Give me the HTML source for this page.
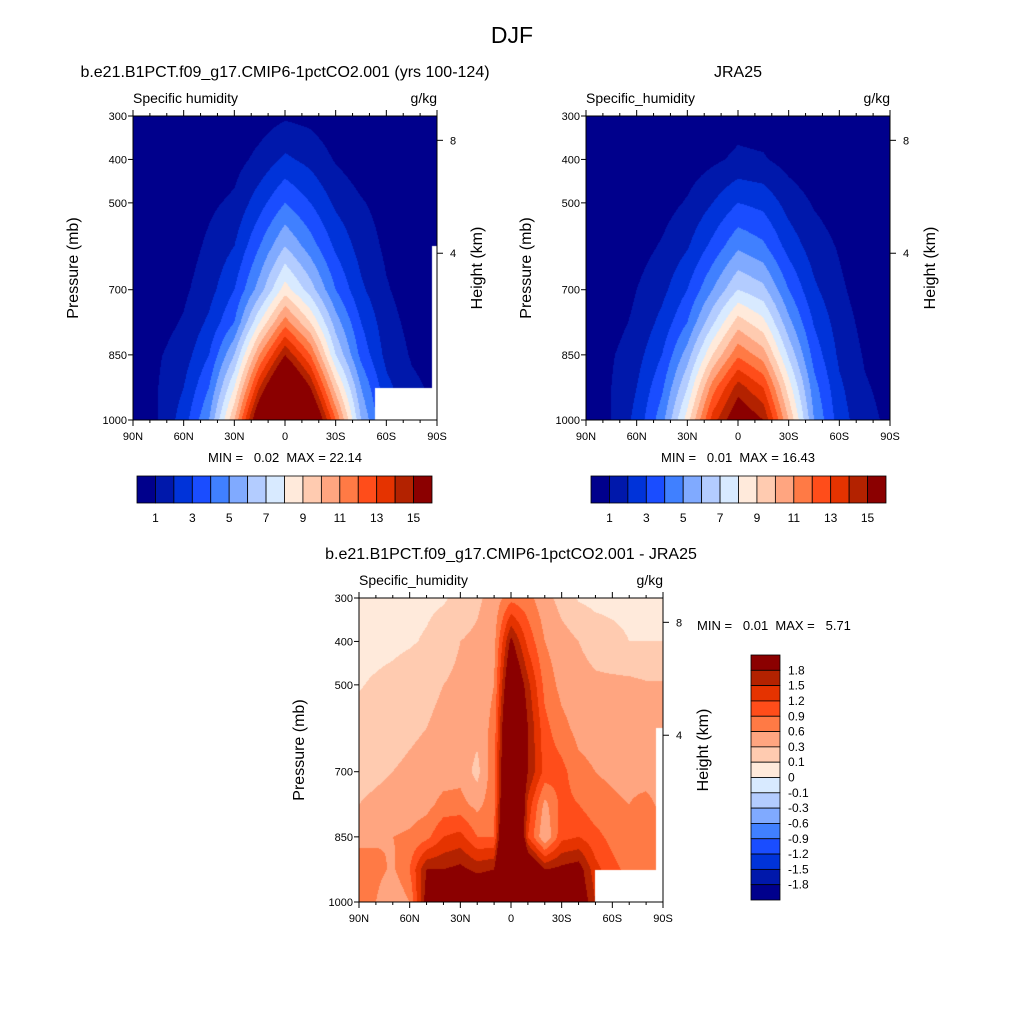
<!DOCTYPE html>
<html><head><meta charset="utf-8">
<style>
body{margin:0;background:#fff;width:1024px;height:1024px;position:relative;overflow:hidden;font-family:"Liberation Sans",Arial,sans-serif}
canvas{position:absolute}
svg{position:absolute;left:0;top:0}
text{white-space:pre}
</style></head>
<body>
<canvas id="c1" width="304" height="304" style="left:133px;top:116px"></canvas>
<canvas id="c2" width="304" height="304" style="left:586px;top:116px"></canvas>
<canvas id="c3" width="304" height="304" style="left:359px;top:598px"></canvas>
<svg id="ov" width="1024" height="1024"></svg>
<script>
// ---- data ----
const pLevels=[300,400,500,600,700,775,850,925,1000];
const lats15=[90,75,60,45,30,15,0,-15,-30,-45,-60,-75,-90];
const lats10=[90,80,70,60,50,40,30,20,10,0,-10,-20,-30,-40,-50,-60,-70,-80,-90];
const modelQ=[
[.01,.02,.05,.1,.2,.5,0.85,.7,.3,.1,.05,.02,.01],
[.02,.05,.1,.3,.6,1.3,2.2,1.7,.9,.4,.15,.05,.03],
[.05,.1,.3,.8,1.2,2.6,4,3,1.8,1.1,.6,.15,.1],
[.1,.2,.5,1.2,2,4,6,4.5,2.8,1.6,.8,.3,.2],
[.2,.4,.8,1.6,3,5.5,8.5,6.5,4,2.2,1.1,.5,.3],
[.3,.6,1.1,2.2,4,8,11.5,9,5.5,3,1.4,.7,.4],
[.5,.9,1.5,3,6,11,15,12,7,3.7,1.7,.9,.6],
[.6,1,2,4,8,14,18.5,15,9.5,5,2.3,1.2,.8],
[.6,1,2.5,5,10,17,22,18,12,6,2.8,1.5,.9]];
const jraQ=[
[.01,.02,.04,.08,.15,.35,.6,.5,.2,.08,.04,.02,.01],
[.02,.04,.08,.2,.45,.8,1.2,1.1,.6,.25,.1,.04,.03],
[.05,.1,.3,.6,1.1,2,3,2.7,1.6,.9,.5,.15,.1],
[.1,.2,.6,1.1,1.9,3.3,4.8,4.2,2.6,1.5,.9,.3,.2],
[.2,.4,1,1.7,3,5,7,6.3,4,2.2,1.2,.5,.3],
[.3,.6,1.2,2.3,4,6.8,9.5,8.3,5.3,2.9,1.5,.7,.4],
[.5,.9,1.6,3,5.5,9,11.8,10.5,6.8,3.6,1.8,.9,.5],
[.6,1,2,3.8,7,11.5,14.5,13,8.5,4.4,2.2,1.1,.7],
[.6,1,2.3,4.6,8.5,13.5,16.3,15,10,5,2.5,1.3,.8]];
const diffQ=[
[.04,.04,.05,.05,.06,.08,.15,.25,.4,.8,.7,.4,.2,.08,.05,.05,.05,.05,.05],
[.05,.05,.06,.08,.12,.2,.3,.35,.5,1.9,1.1,.6,.4,.3,.2,.15,.1,.1,.1],
[.09,.12,.15,.2,.25,.3,.35,.4,.6,2.5,1.6,.8,.5,.4,.35,.35,.35,.32,.32],
[.15,.18,.2,.25,.3,.35,.45,.4,.7,3,1.8,1.0,.7,.5,.45,.45,.4,.4,.35],
[.22,.25,.3,.35,.4,.45,.5,.2,.8,3.2,1.8,1.1,1.0,.7,.6,.55,.5,.45,.4],
[.3,.35,.4,.45,.5,.7,.7,.5,.8,3.5,1.4,.5,1.0,.9,.7,.65,.6,.7,.5],
[.55,.55,.6,.65,.8,1.2,1.3,.9,.9,4,1.2,.3,1.1,1.2,1.0,.8,.6,.9,.7],
[.7,.7,.55,.9,1.8,1.8,1.9,1.7,1.8,4.5,2.5,1.8,1.9,2,1.3,1,.8,.8,.7],
[.7,.6,.3,.6,2,2.5,2.5,2.5,2.5,5,3,2.5,2.5,2.2,1.5,1,.9,.8,.7]];
const qBounds=[1,2,3,4,5,6,7,8,9,10,11,12,13,14,15];
const qTickLabels=["1","3","5","7","9","11","13","15"];
const dBounds=[-1.8,-1.5,-1.2,-0.9,-0.6,-0.3,-0.1,0,0.1,0.3,0.6,0.9,1.2,1.5,1.8];
const dTickLabels=["-1.8","-1.5","-1.2","-0.9","-0.6","-0.3","-0.1","0","0.1","0.3","0.6","0.9","1.2","1.5","1.8"];
const colors=["#00008c","#0018ab","#0033d9","#1a4dff","#4080ff","#80aaff","#b3ccff","#d8eaff","#ffeadb","#ffcbb0","#ffa580","#ff7a45","#ff4d1a","#e53300","#b32200","#8b0000"];
const masks1=[[-53,-90,926],[-87,-90,600]];
const masks2=[];
const masks3=[[-50,-90,926],[-86,-90,600]];
const pTicks=[300,400,500,700,850,1000];
const latTicks=[90,60,30,0,-30,-60,-90];
const latTickLabels=["90N","60N","30N","0","30S","60S","90S"];
const hTicks=[[8,356],[4,616]];

function hex(c){return [parseInt(c.slice(1,3),16),parseInt(c.slice(3,5),16),parseInt(c.slice(5,7),16)];}
function interp(grid,lats,lat,p){
  let i=0;while(i<pLevels.length-2&&p>pLevels[i+1])i++;
  let tp=(p-pLevels[i])/(pLevels[i+1]-pLevels[i]);
  let j=0;while(j<lats.length-2&&lat<lats[j+1])j++;
  let tl=(lat-lats[j])/(lats[j+1]-lats[j]);
  const a=grid[i][j]*(1-tl)+grid[i][j+1]*tl, b=grid[i+1][j]*(1-tl)+grid[i+1][j+1]*tl;
  return a*(1-tp)+b*tp;
}
function render(id,grid,lats,bounds,masks){
  const cv=document.getElementById(id),ctx=cv.getContext('2d');
  const img=ctx.createImageData(304,304),rgb=colors.map(hex);
  for(let y=0;y<304;y++){const p=300+(y+0.5)/304*700;
    for(let x=0;x<304;x++){const lat=90-(x+0.5)/304*180;
      let masked=masks.some(m=>lat<=m[0]&&lat>=m[1]&&p>=m[2]);
      const k=(y*304+x)*4;
      if(masked){img.data[k]=img.data[k+1]=img.data[k+2]=255;img.data[k+3]=255;continue;}
      const v=interp(grid,lats,lat,p);let idx=0;for(const b of bounds)if(v>=b)idx++;
      const c=rgb[idx];img.data[k]=c[0];img.data[k+1]=c[1];img.data[k+2]=c[2];img.data[k+3]=255;}}
  ctx.putImageData(img,0,0);
}
render('c1',modelQ,lats15,qBounds,masks1);
render('c2',jraQ,lats15,qBounds,masks2);
render('c3',diffQ,lats10,dBounds,masks3);

const NS="http://www.w3.org/2000/svg",ov=document.getElementById('ov');
function el(tag,at,txt){const e=document.createElementNS(NS,tag);for(const k in at)e.setAttribute(k,at[k]);if(txt!==undefined)e.textContent=txt;ov.appendChild(e);return e;}
function txt(x,y,s,size,anchor,name,rot){const e=el('text',{x:x,y:y,'font-size':size,'text-anchor':anchor||'start',fill:'#000'},s);
  if(rot)e.setAttribute('transform','rotate(-90 '+x+' '+y+')');
  
  return e;}
function panel(L,T,title,left,right,pre){
  const xs=lat=>L+(90-lat)/180*304, ys=p=>T+(p-300)/700*304;
  const fr=el('rect',{x:L,y:T,width:304,height:304,fill:'none',stroke:'#000','stroke-width':1});
  
  
  pTicks.forEach(p=>{el('line',{x1:L-5,x2:L,y1:ys(p),y2:ys(p),stroke:'#000'});
    txt(L-6,ys(p)+4,String(p),11,'end',pre+'-pressure-tick-label');});
  for(let lat=90;lat>=-90;lat-=10){const maj=lat%30===0,l=maj?6:3;
    el('line',{x1:xs(lat),x2:xs(lat),y1:T+304,y2:T+304+l,stroke:'#000'});
    el('line',{x1:xs(lat),x2:xs(lat),y1:T,y2:T-l,stroke:'#000'});}
  latTicks.forEach((lat,i)=>txt(xs(lat),T+324,latTickLabels[i],11,'middle',pre+'-lat-tick-label'));
  hTicks.forEach(h=>{el('line',{x1:L+304,x2:L+310,y1:ys(h[1]),y2:ys(h[1]),stroke:'#000'});
    txt(L+317,ys(h[1])+4,String(h[0]),11,'start',pre+'-height-tick-label');});
  txt(L-55,T+152,'Pressure (mb)',16,'middle',pre+'-y-axis-title',true);
  txt(L+349,T+152,'Height (km)',16,'middle',pre+'-right-axis-title',true);
  txt(L,T-13,left,14,'start',pre+'-variable-label');
  txt(L+304,T-13,right,14,'end',pre+'-units-label');
  txt(L+152,T-39,title,16,'middle',pre+'-panel-title');
}
txt(512,43,'DJF',23,'middle','main-title');
panel(133,116,'b.e21.B1PCT.f09_g17.CMIP6-1pctCO2.001 (yrs 100-124)','Specific humidity','g/kg','model');
panel(586,116,'JRA25','Specific_humidity','g/kg','jra');
panel(359,598,'b.e21.B1PCT.f09_g17.CMIP6-1pctCO2.001 - JRA25','Specific_humidity','g/kg','diff');
txt(285,462,'MIN =   0.02  MAX = 22.14',13,'middle','model-min-max');
txt(738,462,'MIN =   0.01  MAX = 16.43',13,'middle','jra-min-max');
txt(697,630,'MIN =   0.01  MAX =   5.71',13,'start','diff-min-max');
function hbar(L,pre){const w=295/16;
  colors.forEach((c,i)=>{const r=el('rect',{x:L+i*w,y:476,width:w,height:27,fill:c,stroke:'#000','stroke-width':0.8});
    
    });
  qTickLabels.forEach((s,i)=>txt(L+(2*i+1)*w,522,s,12,'middle',pre+'-colorbar-label'));}
hbar(137,'model');hbar(591,'jra');
const vh=245/16;
colors.slice().reverse().forEach((c,i)=>{const r=el('rect',{x:751,y:655+i*vh,width:29,height:vh,fill:c,stroke:'#000','stroke-width':0.8});
  
  });
dTickLabels.slice().reverse().forEach((s,i)=>txt(788,655+(i+1)*vh+4,s,12,'start','diff-colorbar-label'));
</script>
</body></html>
